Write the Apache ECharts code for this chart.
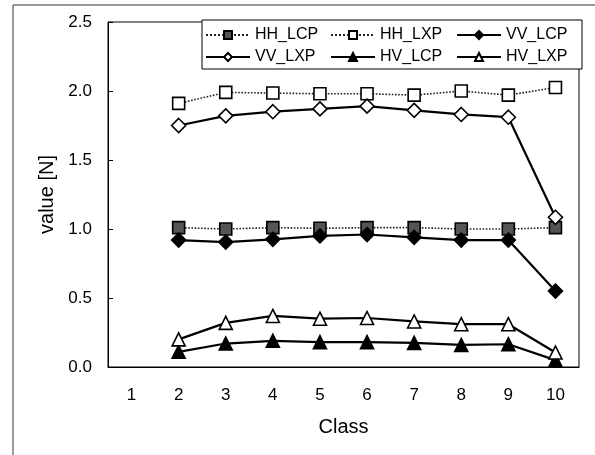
<!DOCTYPE html>
<html>
<head>
<meta charset="utf-8">
<script src="https://cdn.jsdelivr.net/npm/echarts@6/dist/echarts.min.js"></script>
<style>html,body{margin:0;padding:0;background:#fff;}#c{width:595px;height:455px;}</style>
</head>
<body>
<div id="c"></div>
<script>
var categories = ['1','2','3','4','5','6','7','8','9','10'];
var HH_LCP = [null, 1.01, 1.00, 1.01, 1.005, 1.01, 1.01, 1.00, 1.00, 1.01];
var HH_LXP = [null, 1.91, 1.99, 1.985, 1.98, 1.98, 1.97, 2.00, 1.97, 2.025];
var VV_LCP = [null, 0.92, 0.905, 0.925, 0.95, 0.96, 0.94, 0.92, 0.92, 0.55];
var VV_LXP = [null, 1.75, 1.82, 1.85, 1.87, 1.89, 1.86, 1.83, 1.81, 1.085];
var HV_LCP = [null, 0.11, 0.17, 0.19, 0.18, 0.18, 0.175, 0.16, 0.165, 0.05];
var HV_LXP = [null, 0.20, 0.32, 0.37, 0.35, 0.355, 0.33, 0.31, 0.31, 0.105];
var yTicks = [0, 0.5, 1.0, 1.5, 2.0, 2.5];

var FONT = 'Liberation Sans, Arial, sans-serif';
var chart = echarts.init(document.getElementById('c'), null, {renderer: 'canvas'});

function mk(name, data, symbol, filled, size, dotted, fillColor) {
  return {
    name: name, type: 'line', data: data, symbol: symbol, symbolSize: size,
    showSymbol: true, connectNulls: false,
    lineStyle: {color: dotted ? '#222' : '#000', width: dotted ? 1.6 : 2.2, type: dotted ? 'dotted' : 'solid'},
    itemStyle: {color: filled ? (fillColor || '#000') : '#fff', borderColor: '#000', borderWidth: 1.6, opacity: 1},
    emphasis: {disabled: true}, animation: false, z: 3
  };
}

var legendText = {fontFamily: FONT, fontSize: 16, color: '#000'};
function lg(left, data) {
  return {
    orient: 'vertical', left: left, top: 27, itemWidth: 44, itemHeight: 10, itemGap: 6,
    data: data, textStyle: legendText, selectedMode: false, padding: 0
  };
}

chart.setOption({
  backgroundColor: '#fff',
  animation: false,
  grid: {left: 108, right: 16, top: 22, bottom: 88, show: true, borderColor: '#000', borderWidth: 1, backgroundColor: 'transparent'},
  legend: [
    lg(205, ['HH_LCP', 'VV_LXP']),
    lg(330, ['HH_LXP', 'HV_LCP']),
    lg(456, ['VV_LCP', 'HV_LXP'])
  ],
  xAxis: {
    type: 'category', data: categories, boundaryGap: true,
    name: 'Class', nameLocation: 'middle', nameGap: 50,
    nameTextStyle: {fontFamily: FONT, fontSize: 20, color: '#000'},
    axisLine: {lineStyle: {color: '#000', width: 1}},
    axisTick: {inside: true, length: 5, lineStyle: {color: '#000'}},
    axisLabel: {fontFamily: FONT, fontSize: 17, color: '#000', margin: 20},
    splitLine: {show: false}
  },
  yAxis: {
    type: 'value', min: 0, max: 2.5, interval: 0.5,
    name: 'value [N]', nameLocation: 'middle', nameGap: 48, nameRotate: 90,
    nameTextStyle: {fontFamily: FONT, fontSize: 20, color: '#000'},
    axisLine: {show: true, lineStyle: {color: '#000', width: 1}},
    axisTick: {show: true, inside: true, length: 5, lineStyle: {color: '#000'}},
    axisLabel: {fontFamily: FONT, fontSize: 17, color: '#000', margin: 16,
      formatter: function (v) { return yTicks.indexOf(v) >= 0 ? v.toFixed(1) : ''; }},
    splitLine: {show: false}
  },
  series: [
    mk('HH_LCP', HH_LCP, 'rect', true, 12, true, '#555'),
    mk('HH_LXP', HH_LXP, 'rect', false, 12, true),
    mk('VV_LCP', VV_LCP, 'diamond', true, 14, false),
    mk('VV_LXP', VV_LXP, 'diamond', false, 14, false),
    mk('HV_LCP', HV_LCP, 'triangle', true, 13, false),
    mk('HV_LXP', HV_LXP, 'triangle', false, 13, false)
  ],
  graphic: [
    {type: 'rect', shape: {x: 202, y: 20, width: 380, height: 49}, style: {fill: '#fff', stroke: '#000', lineWidth: 1}, z: 0, zlevel: 0},
    {type: 'line', shape: {x1: 13, y1: 5, x2: 13, y2: 455}, style: {stroke: '#333', lineWidth: 1}},
    {type: 'line', shape: {x1: 13, y1: 5, x2: 595, y2: 5}, style: {stroke: '#333', lineWidth: 1}}
  ]
});
</script>
</body>
</html>
